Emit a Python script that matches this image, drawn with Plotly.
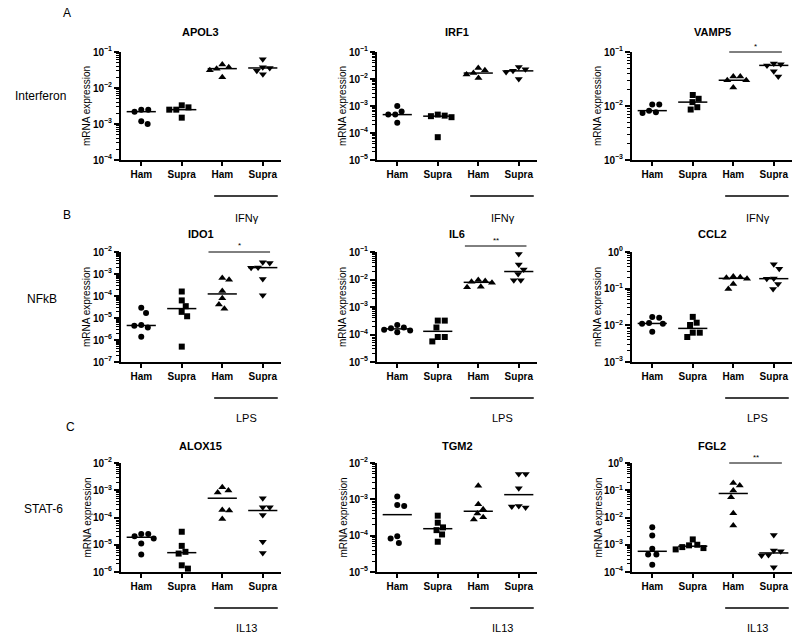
import math
import numpy as np
import plotly.graph_objects as go

W, H = 800, 637

# ---------------- data ----------------
group_labels = ["Ham", "Supra", "Ham", "Supra"]
row_letters = ["A", "B", "C"]
row_labels = ["Interferon", "NFkB", "STAT-6"]
treatments = ["IFNγ", "LPS", "IL13"]
genes = [["APOL3", "IRF1", "VAMP5"],
         ["IDO1", "IL6", "CCL2"],
         ["ALOX15", "TGM2", "FGL2"]]

APOL3 = [[2.5e-3, 2.2e-3, 2.5e-3, 1.0e-3, 1.2e-3],
         [3.3e-3, 2.9e-3, 2.5e-3, 2.5e-3, 1.5e-3],
         [4.5e-2, 3.8e-2, 3.45e-2, 3.1e-2, 2.0e-2],
         [6.3e-2, 3.8e-2, 3.6e-2, 3.0e-2, 2.4e-2]]
IRF1 = [[9.9e-4, 6.2e-4, 4.8e-4, 4.8e-4, 2.4e-4],
        [4.8e-4, 4.4e-4, 4.2e-4, 3.85e-4, 7.0e-5],
        [2.55e-2, 2.1e-2, 1.66e-2, 1.48e-2, 1.1e-2],
        [2.8e-2, 2.3e-2, 2.0e-2, 1.8e-2, 1.0e-2]]
VAMP5 = [[1.07e-2, 1.07e-2, 8.2e-3, 7.7e-3, 7.4e-3],
         [1.6e-2, 1.36e-2, 1.18e-2, 9.5e-3, 8.6e-3],
         [3.5e-2, 3.5e-2, 3.0e-2, 3.0e-2, 2.2e-2],
         [6.1e-2, 5.9e-2, 5.65e-2, 4.4e-2, 3.5e-2]]
IDO1 = [[2.9e-5, 1.7e-5, 4.75e-6, 4.4e-6, 3.7e-6, 1.4e-6],
        [1.6e-4, 6.3e-5, 3.45e-5, 1.9e-5, 1.2e-5, 5.0e-7],
        [6.5e-4, 5.5e-4, 1.7e-4, 7.8e-5, 4.1e-5, 2.6e-5],
        [3.45e-3, 3.2e-3, 2.0e-3, 1.9e-3, 5.9e-4, 1.07e-4]]
IL6 = [[2.2e-4, 1.8e-4, 1.7e-4, 1.5e-4, 1.4e-4, 1.2e-4],
       [3.2e-4, 3.2e-4, 1.8e-4, 8.1e-5, 8.1e-5, 5.6e-5],
       [9.5e-3, 8.8e-3, 8.2e-3, 7.6e-3, 5.5e-3, 5.2e-3],
       [8.5e-2, 3.5e-2, 2.3e-2, 1.6e-2, 9.3e-3, 9.3e-3]]
CCL2 = [[1.7e-2, 1.6e-2, 1.15e-2, 1.1e-2, 1.1e-2, 6.7e-3],
        [1.7e-2, 1.18e-2, 1.02e-2, 6.3e-3, 6.3e-3, 4.8e-3],
        [0.214, 0.205, 0.197, 0.185, 0.134, 0.098],
        [0.46, 0.35, 0.19, 0.185, 0.134, 0.098]]
ALOX15 = [[2.46e-5, 2.46e-5, 2.07e-5, 1.7e-5, 1.11e-5, 4.4e-6],
          [3.0e-5, 9.1e-6, 5.5e-6, 4.75e-6, 1.76e-6, 1.33e-6],
          [1.3e-3, 9.8e-4, 8.3e-4, 1.9e-4, 1.8e-4, 8.8e-5],
          [5.1e-4, 2.37e-4, 2.37e-4, 1.24e-4, 1.28e-5, 5.0e-6]]
TGM2 = [[1.19e-3, 7.0e-4, 6.6e-4, 9.7e-5, 8.4e-5, 6.3e-5],
        [3.55e-4, 2.27e-4, 1.69e-4, 1.42e-4, 1.08e-4, 6.8e-5],
        [2.36e-3, 7.3e-4, 5.3e-4, 4.1e-4, 3.2e-4, 2.8e-4],
        [4.96e-3, 4.96e-3, 2.03e-3, 6.6e-4, 6.3e-4, 6.0e-4]]
FGL2 = [[4.4e-3, 2.2e-3, 7.1e-4, 4.4e-4, 4.4e-4, 1.85e-4],
        [1.57e-3, 1.0e-3, 9.5e-4, 8.2e-4, 7.55e-4, 6.75e-4],
        [0.185, 0.148, 0.097, 0.0554, 0.0144, 5.1e-3],
        [2.3e-3, 6.2e-4, 5.8e-4, 4.2e-4, 4.0e-4, 1.5e-4]]

DATA = {"APOL3": APOL3, "IRF1": IRF1, "VAMP5": VAMP5,
        "IDO1": IDO1, "IL6": IL6, "CCL2": CCL2,
        "ALOX15": ALOX15, "TGM2": TGM2, "FGL2": FGL2}

# log10 exponent range of each y axis
Y_EXP = {"APOL3": (-4, -1), "IRF1": (-5, -1), "VAMP5": (-3, -1),
         "IDO1": (-7, -2), "IL6": (-5, -1), "CCL2": (-3, 0),
         "ALOX15": (-6, -2), "TGM2": (-5, -2), "FGL2": (-4, 0)}

SIG = {"VAMP5": "*", "IDO1": "*", "IL6": "**", "FGL2": "**"}

# ---------------- layout geometry (pixels) ----------------
col_x0 = [121, 377, 632]
plot_w = 160
row_top = [52, 252, 463]
row_bot = [160, 362, 572]
title_y = [32, 234, 446]
treat_line_y = [196, 398, 608]
treat_label_y = [218, 418, 628]
letter_pos = [(67, 13), (67, 215), (70, 427)]
rowlab_pos = [(40, 96), (42, 299), (43, 509)]
sig_geom = {"VAMP5": (1.9, 3.2, 52), "IDO1": (1.66, 3.18, 252),
            "IL6": (1.67, 3.19, 246), "FGL2": (1.9, 3.2, 463)}
X_RANGE = [-0.5, 3.45]
symbols = ["circle", "square", "triangle-up", "triangle-down"]
msizes = [6, 6, 7, 7]
FONT = "Liberation Sans, Arial, sans-serif"


def px(x):
    return x / W


def py(y):
    return 1 - y / H


def swarm(vals, ppd, ppu, d=7.0):
    ys = [-math.log10(v) * ppd for v in vals]
    n = len(vals)
    order = sorted(range(n), key=lambda i: ys[i])
    placed = []
    offs = [0.0] * n
    side = 1
    for i in order:
        y = ys[i]
        cands = [0.0]
        for (qx, qy) in placed:
            dy = abs(qy - y)
            if dy < d:
                dx = math.sqrt(d * d - dy * dy)
                cands += [qx + dx + 1e-6, qx - dx - 1e-6]
        valid = [c for c in cands
                 if all((c - qx) ** 2 + (y - qy) ** 2 >= d * d - 1e-4 for qx, qy in placed)]
        best = min(valid, key=lambda c: (round(abs(c), 2), -side * c))
        if best != 0:
            side = -side
        placed.append((best, y))
        offs[i] = best / ppu
    return offs


fig = go.Figure()
layout = dict(width=W, height=H, margin=dict(l=0, r=0, t=0, b=0, pad=0, autoexpand=False),
              paper_bgcolor="white", plot_bgcolor="white", showlegend=False,
              font=dict(family=FONT, color="black"))
annotations = []
shapes = []

ppu = plot_w / (X_RANGE[1] - X_RANGE[0])

for r in range(3):
    for c in range(3):
        k = r * 3 + c + 1
        g = genes[r][c]
        xs = "x" if k == 1 else f"x{k}"
        ysr = "y" if k == 1 else f"y{k}"
        lo, hi = Y_EXP[g]
        ppd = (row_bot[r] - row_top[r]) / (hi - lo)
        for gi, vals in enumerate(DATA[g]):
            offs = swarm(vals, ppd, ppu)
            fig.add_trace(go.Scatter(
                x=[gi + o for o in offs], y=vals, mode="markers",
                xaxis=xs, yaxis=ysr,
                marker=dict(symbol=symbols[gi], size=msizes[gi], color="black",
                            line=dict(width=0)),
                cliponaxis=False, hoverinfo="skip"))
            med = float(np.median(vals))
            fig.add_trace(go.Scatter(
                x=[gi - 0.36, gi + 0.36], y=[med, med], mode="lines",
                xaxis=xs, yaxis=ysr, line=dict(color="black", width=1.5),
                hoverinfo="skip"))
        xd = [px(col_x0[c]), px(col_x0[c] + plot_w)]
        yd = [py(row_bot[r]), py(row_top[r])]
        tickvals = [10.0 ** e for e in range(lo, hi + 1)]
        ticktext = [f"10<sup>{'−' if e < 0 else ''}{abs(e)}</sup>" for e in range(lo, hi + 1)]
        minor_vals = [m * 10.0 ** e for e in range(lo, hi) for m in range(2, 10)]
        layout["xaxis" if k == 1 else f"xaxis{k}"] = dict(
            domain=xd, range=X_RANGE, anchor=ysr, showgrid=False, zeroline=False,
            automargin=False,
            showline=True, linecolor="black", linewidth=2,
            tickmode="array", tickvals=[0, 1, 2, 3], ticktext=group_labels,
            ticks="outside", ticklen=4, tickwidth=1.5, tickcolor="black",
            tickfont=dict(family=FONT, size=10, weight="bold", color="black"))
        layout["yaxis" if k == 1 else f"yaxis{k}"] = dict(
            domain=yd, type="log", range=[lo, hi], anchor=xs, automargin=False,
            showgrid=False, zeroline=False, showline=True, linecolor="black",
            linewidth=2, tickmode="array", tickvals=tickvals, ticktext=ticktext,
            ticks="outside", ticklen=5, tickwidth=1.5, tickcolor="black",
            tickfont=dict(family=FONT, size=10, weight="bold", color="black"),
            minor=dict(tickmode="array", tickvals=minor_vals, ticks="outside",
                       ticklen=3, tickwidth=1, tickcolor="black", showgrid=False))
        # title
        annotations.append(dict(text=f"<b>{g}</b>", x=px(col_x0[c] + plot_w / 2),
                                y=py(title_y[r]), xref="paper", yref="paper",
                                showarrow=False, xanchor="center", yanchor="middle",
                                font=dict(family=FONT, size=11, color="black")))
        # y axis title
        annotations.append(dict(text="mRNA expression", x=px(col_x0[c] - 34),
                                y=py((row_top[r] + row_bot[r]) / 2), xref="paper",
                                yref="paper", showarrow=False, textangle=-90,
                                xanchor="center", yanchor="middle",
                                font=dict(family=FONT, size=10, color="black")))
        # treatment bar and label
        shapes.append(dict(type="line", xref=xs, yref="paper", x0=1.8, x1=3.37,
                           y0=py(treat_line_y[r]), y1=py(treat_line_y[r]),
                           line=dict(color="black", width=1.5)))
        annotations.append(dict(text=treatments[r], xref=xs, yref="paper",
                                x=2.6, y=py(treat_label_y[r]), showarrow=False,
                                xanchor="center", yanchor="middle",
                                font=dict(family=FONT, size=11, color="black")))
        if g in SIG:
            x0, x1, yy = sig_geom[g]
            shapes.append(dict(type="line", xref=xs, yref="paper", x0=x0, x1=x1,
                               y0=py(yy), y1=py(yy), line=dict(color="black", width=1)))
            annotations.append(dict(text=SIG[g], xref=xs, yref="paper",
                                    x=(x0 + x1) / 2, y=py(yy - 6), showarrow=False,
                                    xanchor="center", yanchor="middle",
                                    font=dict(family=FONT, size=8, color="black")))

for r in range(3):
    lx, ly = letter_pos[r]
    annotations.append(dict(text=row_letters[r], x=px(lx), y=py(ly), xref="paper",
                            yref="paper", showarrow=False, xanchor="center",
                            yanchor="middle", font=dict(family=FONT, size=12, color="black")))
    rx, ry = rowlab_pos[r]
    annotations.append(dict(text=row_labels[r], x=px(rx), y=py(ry), xref="paper",
                            yref="paper", showarrow=False, xanchor="center",
                            yanchor="middle", font=dict(family=FONT, size=12, color="black")))

layout["annotations"] = annotations
layout["shapes"] = shapes
fig.update_layout(**layout)
fig.write_html("out.html", config={"displayModeBar": False},
               post_script="document.body.style.margin='0px';document.body.style.overflow='hidden';")
